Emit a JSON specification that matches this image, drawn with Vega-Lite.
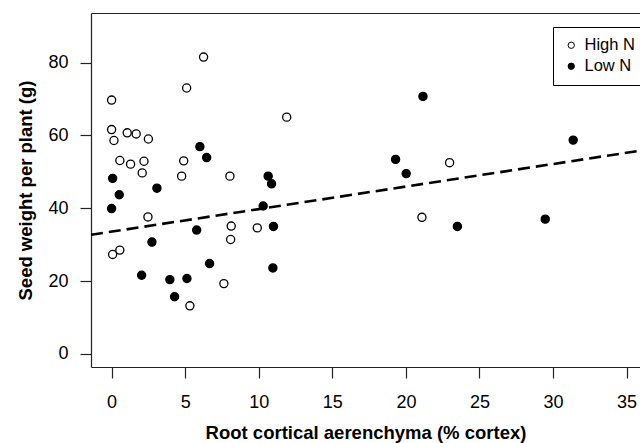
{
  "$schema": "https://vega.github.io/schema/vega-lite/v6.json",
  "width": 549,
  "height": 354,
  "autosize": "none",
  "padding": {"left": 91, "top": 13, "right": 0, "bottom": 76},
  "background": "white",
  "config": {
    "view": {"stroke": null},
    "font": "Liberation Sans",
    "axis": {
      "grid": false,
      "domainColor": "#222",
      "domainWidth": 1.2,
      "tickColor": "#222",
      "tickWidth": 1.2,
      "tickSize": 11,
      "labelFont": "Liberation Sans",
      "labelFontSize": 18,
      "labelColor": "black",
      "titleFont": "Liberation Sans",
      "titleFontSize": 18.5,
      "titleFontWeight": "bold",
      "titleColor": "black"
    }
  },
  "datasets": {
    "plants": [
      {"aerenchyma": 6.25, "seed": 81.5, "nitrogen": "High N"},
      {"aerenchyma": 5.1, "seed": 73.0, "nitrogen": "High N"},
      {"aerenchyma": 0.0, "seed": 69.7, "nitrogen": "High N"},
      {"aerenchyma": 0.0, "seed": 61.6, "nitrogen": "High N"},
      {"aerenchyma": 1.06, "seed": 60.7, "nitrogen": "High N"},
      {"aerenchyma": 1.67, "seed": 60.4, "nitrogen": "High N"},
      {"aerenchyma": 0.16, "seed": 58.6, "nitrogen": "High N"},
      {"aerenchyma": 2.5, "seed": 59.0, "nitrogen": "High N"},
      {"aerenchyma": 11.9, "seed": 65.0, "nitrogen": "High N"},
      {"aerenchyma": 0.56, "seed": 53.1, "nitrogen": "High N"},
      {"aerenchyma": 1.29, "seed": 52.1, "nitrogen": "High N"},
      {"aerenchyma": 2.2, "seed": 52.9, "nitrogen": "High N"},
      {"aerenchyma": 4.9, "seed": 53.0, "nitrogen": "High N"},
      {"aerenchyma": 2.08, "seed": 49.7, "nitrogen": "High N"},
      {"aerenchyma": 4.76, "seed": 48.8, "nitrogen": "High N"},
      {"aerenchyma": 8.04, "seed": 48.8, "nitrogen": "High N"},
      {"aerenchyma": 2.47, "seed": 37.6, "nitrogen": "High N"},
      {"aerenchyma": 8.13, "seed": 35.1, "nitrogen": "High N"},
      {"aerenchyma": 8.09, "seed": 31.4, "nitrogen": "High N"},
      {"aerenchyma": 9.9, "seed": 34.6, "nitrogen": "High N"},
      {"aerenchyma": 0.07, "seed": 27.3, "nitrogen": "High N"},
      {"aerenchyma": 0.56, "seed": 28.5, "nitrogen": "High N"},
      {"aerenchyma": 5.32, "seed": 13.2, "nitrogen": "High N"},
      {"aerenchyma": 7.63, "seed": 19.3, "nitrogen": "High N"},
      {"aerenchyma": 22.97, "seed": 52.5, "nitrogen": "High N"},
      {"aerenchyma": 21.09, "seed": 37.5, "nitrogen": "High N"},
      {"aerenchyma": 6.0, "seed": 56.9, "nitrogen": "Low N"},
      {"aerenchyma": 6.46, "seed": 53.9, "nitrogen": "Low N"},
      {"aerenchyma": 0.07, "seed": 48.2, "nitrogen": "Low N"},
      {"aerenchyma": 0.52, "seed": 43.7, "nitrogen": "Low N"},
      {"aerenchyma": 3.08, "seed": 45.5, "nitrogen": "Low N"},
      {"aerenchyma": 10.64, "seed": 48.8, "nitrogen": "Low N"},
      {"aerenchyma": 10.87, "seed": 46.7, "nitrogen": "Low N"},
      {"aerenchyma": 0.0, "seed": 39.9, "nitrogen": "Low N"},
      {"aerenchyma": 10.3, "seed": 40.6, "nitrogen": "Low N"},
      {"aerenchyma": 5.78, "seed": 34.0, "nitrogen": "Low N"},
      {"aerenchyma": 11.0, "seed": 35.0, "nitrogen": "Low N"},
      {"aerenchyma": 2.74, "seed": 30.7, "nitrogen": "Low N"},
      {"aerenchyma": 2.04, "seed": 21.6, "nitrogen": "Low N"},
      {"aerenchyma": 3.96, "seed": 20.4, "nitrogen": "Low N"},
      {"aerenchyma": 5.12, "seed": 20.7, "nitrogen": "Low N"},
      {"aerenchyma": 4.28, "seed": 15.7, "nitrogen": "Low N"},
      {"aerenchyma": 6.66, "seed": 24.8, "nitrogen": "Low N"},
      {"aerenchyma": 10.96, "seed": 23.6, "nitrogen": "Low N"},
      {"aerenchyma": 21.16, "seed": 70.7, "nitrogen": "Low N"},
      {"aerenchyma": 19.3, "seed": 53.4, "nitrogen": "Low N"},
      {"aerenchyma": 20.02, "seed": 49.5, "nitrogen": "Low N"},
      {"aerenchyma": 23.5, "seed": 35.0, "nitrogen": "Low N"},
      {"aerenchyma": 31.37, "seed": 58.7, "nitrogen": "Low N"},
      {"aerenchyma": 29.47, "seed": 37.0, "nitrogen": "Low N"}
    ],
    "fit": [
      {"aerenchyma": -1.4, "seed": 32.7},
      {"aerenchyma": 36.4, "seed": 56.1}
    ]
  },
  "layer": [
    {
      "data": {"name": "fit"},
      "mark": {"type": "line", "color": "black", "strokeWidth": 2.6, "strokeDash": [12, 6], "clip": true},
      "encoding": {
        "x": {"field": "aerenchyma", "type": "quantitative",
              "scale": {"domain": [-1.4, 35.91], "nice": false, "zero": false},
              "axis": {"orient": "top", "labels": false, "ticks": false, "title": null}},
        "y": {"field": "seed", "type": "quantitative",
              "scale": {"domain": [-3.6, 93.6], "nice": false, "zero": false},
              "axis": {"orient": "right", "labels": false, "ticks": false, "title": null, "domain": false}}
      }
    },
    {
      "data": {"name": "plants"},
      "mark": {"type": "point", "filled": true, "stroke": "black", "strokeWidth": 1.3, "size": 66, "opacity": 1},
      "encoding": {
        "x": {"field": "aerenchyma", "type": "quantitative",
              "axis": {"orient": "bottom", "values": [0, 5, 10, 15, 20, 25, 30, 35], "labelPadding": 15, "titlePadding": 12,
                       "title": "Root cortical aerenchyma (% cortex)"}},
        "y": {"field": "seed", "type": "quantitative",
              "axis": {"orient": "left", "values": [0, 20, 40, 60, 80], "labelPadding": 12, "titlePadding": 12,
                       "title": "Seed weight per plant (g)"}},
        "fill": {"field": "nitrogen", "type": "nominal",
                 "scale": {"domain": ["High N", "Low N"], "range": ["white", "black"]},
                 "legend": {"orient": "none", "legendX": 462, "legendY": 14, "title": null,
                            "strokeColor": "black", "fillColor": "white", "padding": 10,
                            "symbolType": "circle", "symbolSize": 40, "symbolStrokeColor": "black", "symbolStrokeWidth": 1,
                            "labelFont": "Liberation Sans", "labelFontSize": 16.5, "labelColor": "black",
                            "labelOffset": 5, "rowPadding": 4}}
      }
    }
  ],
  "resolve": {"axis": {"x": "independent", "y": "independent"}}
}
